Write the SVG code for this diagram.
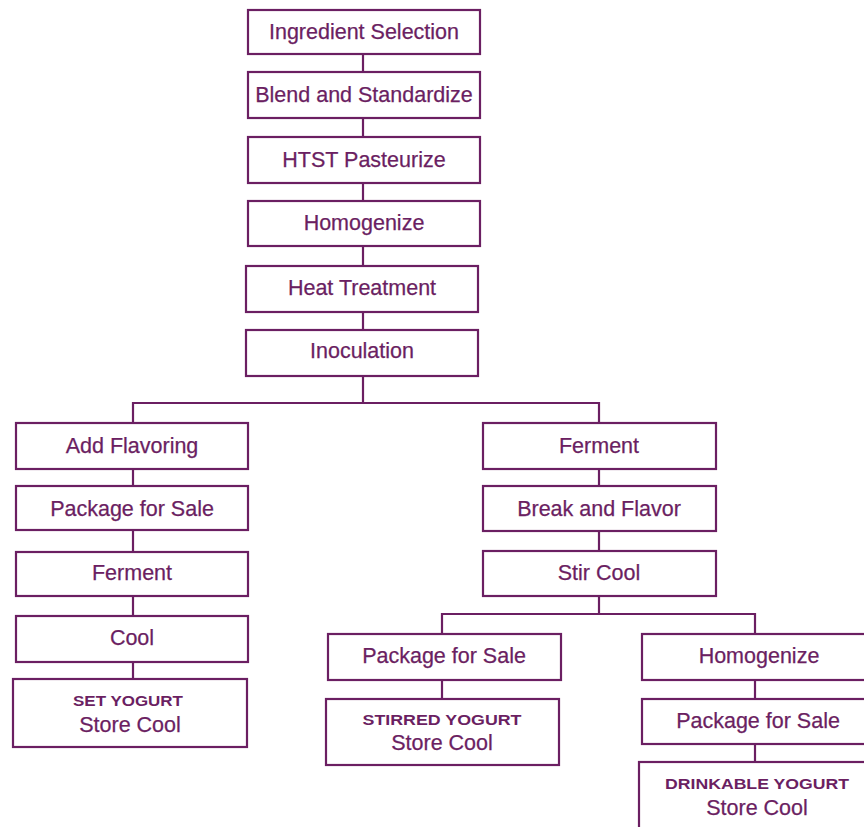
<svg xmlns="http://www.w3.org/2000/svg" width="864" height="827" viewBox="0 0 864 827">
<style>
rect{fill:#fff;stroke:#6b1f62;stroke-width:2.2}
.c line{stroke:#6b1f62;stroke-width:2.2}
text{font-family:"Liberation Sans",Arial,sans-serif;fill:#6b1f62;text-anchor:middle}
.t{font-size:21.5px;stroke:#6b1f62;stroke-width:0.25}
.s{font-size:14px;font-weight:bold}
</style>
<rect x="0" y="0" width="864" height="827" style="stroke:none;fill:#fff"/>
<g class="c">
<line x1="363" y1="54" x2="363" y2="72"/>
<line x1="363" y1="118" x2="363" y2="137"/>
<line x1="363" y1="183" x2="363" y2="201"/>
<line x1="363" y1="246" x2="363" y2="266"/>
<line x1="363" y1="312" x2="363" y2="330"/>
<line x1="363" y1="376" x2="363" y2="403"/>
<line x1="133" y1="403" x2="599" y2="403"/>
<line x1="133" y1="402" x2="133" y2="423"/>
<line x1="599" y1="402" x2="599" y2="423"/>
<line x1="133" y1="469" x2="133" y2="486"/>
<line x1="133" y1="530" x2="133" y2="552"/>
<line x1="133" y1="596" x2="133" y2="616"/>
<line x1="133" y1="662" x2="133" y2="679"/>
<line x1="599" y1="469" x2="599" y2="486"/>
<line x1="599" y1="531" x2="599" y2="551"/>
<line x1="599" y1="596" x2="599" y2="614"/>
<line x1="442" y1="614" x2="755" y2="614"/>
<line x1="442" y1="613" x2="442" y2="634"/>
<line x1="755" y1="613" x2="755" y2="634"/>
<line x1="442" y1="680" x2="442" y2="699"/>
<line x1="755" y1="680" x2="755" y2="699"/>
<line x1="755" y1="744" x2="755" y2="762"/>
</g>
<g id="n1"><rect x="248" y="10" width="232" height="44"/><text class="t" x="364" y="39">Ingredient Selection</text></g>
<g id="n2"><rect x="248" y="72" width="232" height="46"/><text class="t" x="364" y="102">Blend and Standardize</text></g>
<g id="n3"><rect x="248" y="137" width="232" height="46"/><text class="t" x="364" y="167">HTST Pasteurize</text></g>
<g id="n4"><rect x="248" y="201" width="232" height="45"/><text class="t" x="364" y="230">Homogenize</text></g>
<g id="n5"><rect x="246" y="266" width="232" height="46"/><text class="t" x="362" y="295">Heat Treatment</text></g>
<g id="n6"><rect x="246" y="330" width="232" height="46"/><text class="t" x="362" y="358">Inoculation</text></g>
<g id="l1"><rect x="16" y="423" width="232" height="46"/><text class="t" x="132" y="453">Add Flavoring</text></g>
<g id="l2"><rect x="16" y="486" width="232" height="44"/><text class="t" x="132" y="516">Package for Sale</text></g>
<g id="l3"><rect x="16" y="552" width="232" height="44"/><text class="t" x="132" y="580">Ferment</text></g>
<g id="l4"><rect x="16" y="616" width="232" height="46"/><text class="t" x="132" y="645">Cool</text></g>
<g id="l5"><rect x="13" y="679" width="234" height="68"/><text class="s" x="128" y="706" textLength="110" lengthAdjust="spacingAndGlyphs">SET YOGURT</text><text class="t" x="130" y="732">Store Cool</text></g>
<g id="r1"><rect x="483" y="423" width="233" height="46"/><text class="t" x="599" y="453">Ferment</text></g>
<g id="r2"><rect x="483" y="486" width="233" height="45"/><text class="t" x="599" y="516">Break and Flavor</text></g>
<g id="r3"><rect x="483" y="551" width="233" height="45"/><text class="t" x="599" y="580">Stir Cool</text></g>
<g id="s1"><rect x="328" y="634" width="233" height="46"/><text class="t" x="444" y="663">Package for Sale</text></g>
<g id="s2"><rect x="326" y="699" width="233" height="66"/><text class="s" x="442" y="725" textLength="159" lengthAdjust="spacingAndGlyphs">STIRRED YOGURT</text><text class="t" x="442" y="750">Store Cool</text></g>
<g id="d1"><rect x="642" y="634" width="228" height="46"/><text class="t" x="759" y="663">Homogenize</text></g>
<g id="d2"><rect x="642" y="699" width="228" height="45"/><text class="t" x="758" y="728">Package for Sale</text></g>
<g id="d3"><rect x="639" y="762" width="231" height="80"/><text class="s" x="757" y="789" textLength="184" lengthAdjust="spacingAndGlyphs">DRINKABLE YOGURT</text><text class="t" x="757" y="815">Store Cool</text></g>
</svg>
